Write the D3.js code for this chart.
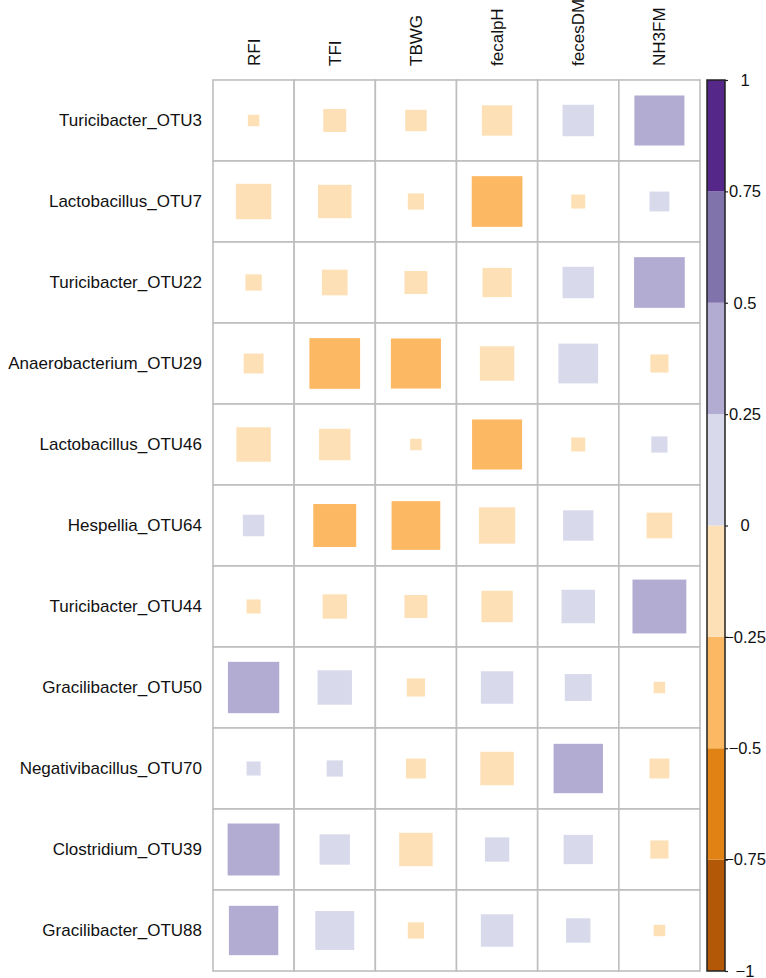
<!DOCTYPE html>
<html>
<head>
<meta charset="utf-8">
<script src="https://cdn.jsdelivr.net/npm/d3@7/dist/d3.min.js"></script>
<style>
  html, body { margin: 0; padding: 0; background: #fff; }
  text { font-family: "Liberation Sans", Arial, sans-serif; fill: #111; }
</style>
</head>
<body>
<script>

var w = 766, h = 978;

// rows (OTUs) and columns (traits)
var otus = ["Turicibacter_OTU3", "Lactobacillus_OTU7", "Turicibacter_OTU22",
  "Anaerobacterium_OTU29", "Lactobacillus_OTU46", "Hespellia_OTU64",
  "Turicibacter_OTU44", "Gracilibacter_OTU50", "Negativibacillus_OTU70",
  "Clostridium_OTU39", "Gracilibacter_OTU88"];
var traits = ["RFI", "TFI", "TBWG", "fecalpH", "fecesDM", "NH3FM"];

// correlation per trait, in the order of otus
var rfi     = [-0.02, -0.19, -0.04, -0.06, -0.18,  0.07, -0.03,  0.40,  0.03,  0.41,  0.37];
var tfi     = [-0.08, -0.17, -0.10, -0.39, -0.15, -0.28, -0.09,  0.18,  0.04,  0.14,  0.23];
var tbwg    = [-0.07, -0.04, -0.08, -0.38, -0.02, -0.36, -0.08, -0.05, -0.06, -0.17, -0.04];
var fecalpH = [-0.14, -0.39, -0.13, -0.18, -0.38, -0.20, -0.15,  0.16, -0.17,  0.09,  0.16];
var fecesDM = [ 0.15, -0.03,  0.15,  0.24, -0.03,  0.14,  0.17,  0.11,  0.37,  0.13,  0.09];
var nh3fm   = [ 0.38,  0.06,  0.39, -0.05,  0.04, -0.10,  0.44, -0.02, -0.06, -0.05, -0.02];

var legendTicks = [1, 0.75, 0.5, 0.25, 0, -0.25, -0.5, -0.75, -1];
var palette = ["#B35806", "#E08214", "#FDB863", "#FEE0B6", "#D8DAEB", "#B2ABD2", "#8073AC", "#542788"];

var columns = [rfi, tfi, tbwg, fecalpH, fecesDM, nh3fm];
var cells = [];
traits.forEach(function(t, j){
  otus.forEach(function(o, i){
    cells.push({otu: o, trait: t, r: columns[j][i]});
  });
});

var svg = d3.select("body").append("svg").attr("width", w).attr("height", h);

var x = d3.scaleBand().domain(traits).range([213, 700]);
var y = d3.scaleBand().domain(otus).range([80, 971]);
var side = d3.scaleSqrt().domain([0, 1]).range([0, x.bandwidth()]);
var color = d3.scaleQuantize().domain([-1, 1]).range(palette);

// grid
svg.append("g").selectAll("rect")
  .data(cells)
  .enter()
  .append("rect")
  .attr("x", function(d){ return x(d.trait); })
  .attr("y", function(d){ return y(d.otu); })
  .attr("width", x.bandwidth())
  .attr("height", y.bandwidth())
  .attr("fill", "#fff")
  .attr("stroke", "#bebebe")
  .attr("stroke-width", 1.6);

// squares
svg.append("g").selectAll("rect")
  .data(cells)
  .enter()
  .append("rect")
  .attr("x", function(d){ return x(d.trait) + x.bandwidth()/2 - side(Math.abs(d.r))/2; })
  .attr("y", function(d){ return y(d.otu) + y.bandwidth()/2 - side(Math.abs(d.r))/2; })
  .attr("width", function(d){ return side(Math.abs(d.r)); })
  .attr("height", function(d){ return side(Math.abs(d.r)); })
  .attr("fill", function(d){ return color(d.r); });

// row labels
svg.append("g").selectAll("text")
  .data(otus)
  .enter()
  .append("text")
  .attr("x", 202)
  .attr("y", function(d){ return y(d) + y.bandwidth()/2; })
  .attr("dy", "0.35em")
  .attr("text-anchor", "end")
  .attr("font-size", "17px")
  .text(function(d){ return d; });

// column labels
svg.append("g").selectAll("text")
  .data(traits)
  .enter()
  .append("text")
  .attr("transform", function(d){
    return "translate(" + (x(d) + x.bandwidth()/2) + ",66) rotate(-90)";
  })
  .attr("dy", "0.35em")
  .attr("text-anchor", "start")
  .attr("font-size", "17px")
  .text(function(d){ return d; });

// colour legend
var cy = d3.scaleLinear().domain([-1, 1]).range([971, 80]);
var bins = palette.map(function(c, i){ return {c: c, lo: -1 + i*0.25, hi: -1 + (i+1)*0.25}; });

var legend = svg.append("g");
legend.selectAll("rect")
  .data(bins)
  .enter()
  .append("rect")
  .attr("x", 707)
  .attr("width", 18)
  .attr("y", function(d){ return cy(d.hi); })
  .attr("height", function(d){ return cy(d.lo) - cy(d.hi); })
  .attr("fill", function(d){ return d.c; });

legend.append("rect")
  .attr("x", 707).attr("y", cy(1))
  .attr("width", 18).attr("height", cy(-1) - cy(1))
  .attr("fill", "none")
  .attr("stroke", "#222")
  .attr("stroke-width", 1.5);

var axis = d3.axisRight(cy)
  .tickValues(legendTicks)
  .tickSize(3)
  .tickFormat(function(d){ return d < 0 ? "\u2212" + Math.abs(d) : String(d); });

var ax = legend.append("g").attr("transform", "translate(725,0)").call(axis);
ax.select(".domain").remove();
ax.selectAll("line").attr("stroke", "#222").attr("stroke-width", 1.2);
ax.selectAll("text")
  .attr("x", 20)
  .attr("text-anchor", "middle")
  .attr("font-size", "16.5px")
  .attr("font-family", "'Liberation Sans', Arial, sans-serif")
  .attr("fill", "#111");

</script>
</body>
</html>
